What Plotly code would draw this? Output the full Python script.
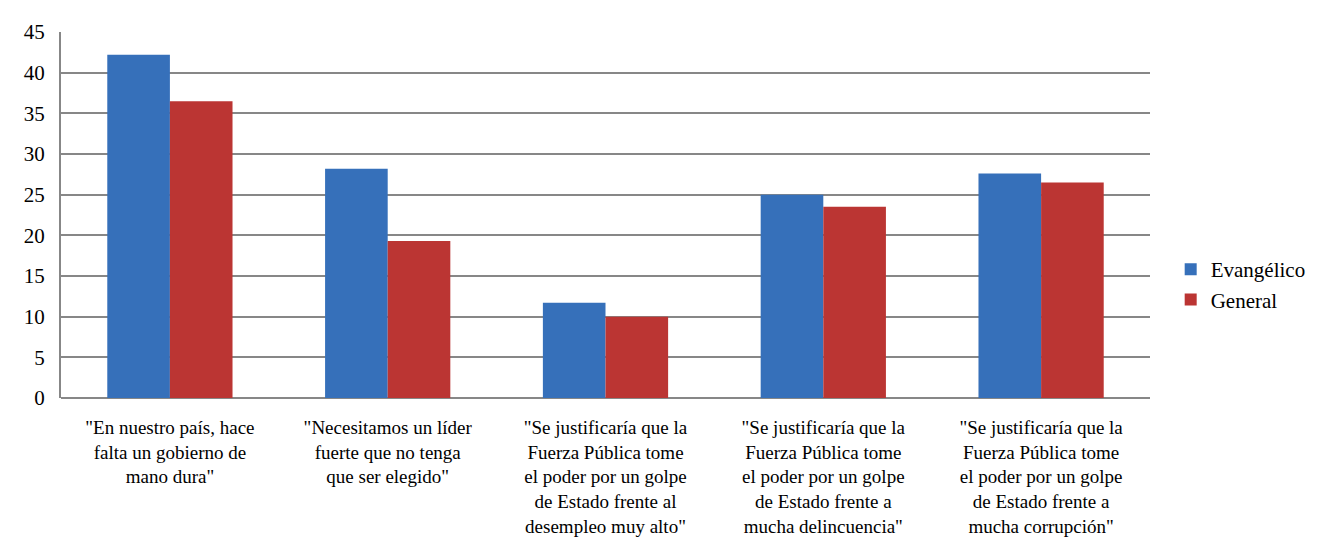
import plotly.graph_objects as go

categories = [
    '"En nuestro país, hace<br>falta un gobierno de<br>mano dura"',
    '"Necesitamos un líder<br>fuerte que no tenga<br>que ser elegido"',
    '"Se justificaría que la<br>Fuerza Pública tome<br>el poder por un golpe<br>de Estado frente al<br>desempleo muy alto"',
    '"Se justificaría que la<br>Fuerza Pública tome<br>el poder por un golpe<br>de Estado frente a<br>mucha delincuencia"',
    '"Se justificaría que la<br>Fuerza Pública tome<br>el poder por un golpe<br>de Estado frente a<br>mucha corrupción"',
]
evangelico = [42.2, 28.2, 11.7, 25.0, 27.6]
general = [36.5, 19.3, 10.0, 23.5, 26.5]
y_ticks = [0, 5, 10, 15, 20, 25, 30, 35, 40, 45]

fig = go.Figure()
fig.add_trace(go.Bar(x=categories, y=evangelico, name="Evangélico",
                     marker=dict(color="#3670BA", line=dict(width=0))))
fig.add_trace(go.Bar(x=categories, y=general, name="General",
                     marker=dict(color="#BB3533", line=dict(width=0))))

fig.update_layout(
    width=1330, height=545,
    barmode="group",
    bargap=0.425, bargroupgap=0,
    plot_bgcolor="white", paper_bgcolor="white",
    margin=dict(l=53, r=188, t=17, b=155),
    font=dict(family="Liberation Serif", size=19, color="black"),
    legend=dict(x=1.019, y=0.31, xanchor="left", yanchor="middle",
                font=dict(size=21), tracegroupgap=10),
    showlegend=True,
)
fig.update_xaxes(
    showgrid=False, showline=False, tickangle=0,
    ticks="outside", ticklen=12, tickcolor="white",
    tickfont=dict(size=19),
)
fig.update_yaxes(
    range=[0, 45], tickvals=y_ticks, showgrid=True,
    gridcolor="#878787", gridwidth=2,
    showline=True, linecolor="#878787", linewidth=2,
    zeroline=True, zerolinecolor="#878787", zerolinewidth=2,
    ticks="outside", ticklen=10, tickcolor="white",
    tickfont=dict(size=21),
)

fig.write_html("out.html")
